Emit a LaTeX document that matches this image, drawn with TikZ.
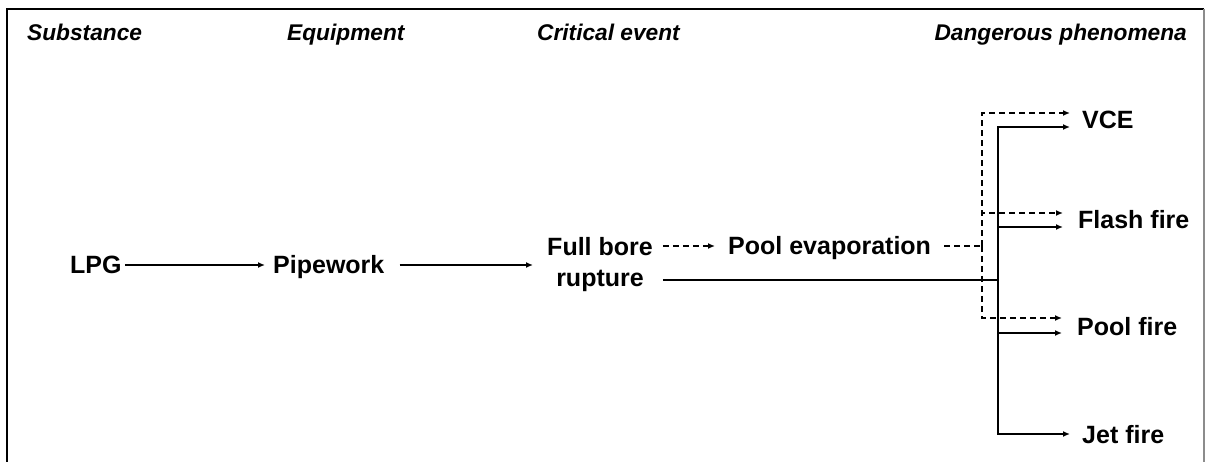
\documentclass[tikz,border=0pt]{standalone}
\usepackage{fontspec}
\setmainfont{Liberation Sans}
\usetikzlibrary{arrows.meta}

\begin{document}
\begin{tikzpicture}[x=1pt, y=-1pt,
    head/.style={font=\fontsize{22.7}{27}\selectfont\bfseries\itshape, inner sep=0pt, text height=16pt, text depth=0pt, anchor=west},
    item/.style={font=\fontsize{25}{31}\selectfont\bfseries, inner sep=0pt, text height=18pt, text depth=0pt, anchor=west},
    link/.style={line width=2pt},
    flow/.style={link, -{Latex[length=7pt,width=6pt]}},
    maybe/.style={dash pattern=on 6pt off 4pt}]

    % Common settings
    \def\dashX{982}
    \def\solidX{998}

    \useasboundingbox (0,0) rectangle (1207,462);

    % Frame (open at the bottom)
    \draw[line width=2.5pt] (7,462) -- (7,9) -- (1204,9);
    \draw[line width=1.5pt, black!45] (1204,9) -- (1204,462);

    % Column headings
    \node[head] (substance) at (27,33) {Substance};
    \node[head] (equipment) at (287,33) {Equipment};
    \node[head] (critical) at (537,33) {Critical event};
    \node[head, anchor=east] (phenomena) at (1187,33) {Dangerous phenomena};

    %%%% Event chain
    \node[item] (lpg) at (70,265) {LPG};
    \node[item] (pipework) at (273,265) {Pipework};
    \node[font=\fontsize{25}{31}\selectfont\bfseries, align=center, inner sep=0pt] (rupture) at (600,265) {Full bore\\rupture};
    \node[item] (evap) at (728,246) {Pool evaporation};

    \draw[flow, shorten <=3pt, shorten >=8pt] (lpg.east) -- (pipework.west);
    \draw[flow, shorten <=15pt, shorten >=14pt] (pipework.east) -- (rupture.west);
    \draw[flow, maybe, shorten <=10pt, shorten >=13pt] (rupture.east |- evap.west) -- (evap.west);

    %%%% Dangerous phenomena
    \node[item] (vce) at (1082,120) {VCE};
    \node[item] (flash) at (1078,220) {Flash fire};
    \node[item] (pool) at (1077,326) {Pool fire};
    \node[item] (jet) at (1082,434) {Jet fire};

    % Split points
    \coordinate (dsplit) at (\dashX,246);
    \coordinate (ssplit) at (\solidX,280);

    % Via pool evaporation (dashed)
    \draw[link, maybe, shorten <=13pt] (evap.east) -- (dsplit);
    \draw[flow, maybe] (dsplit) |- ([xshift=-12pt, yshift=7pt]vce.west);
    \draw[flow, maybe] (dsplit) |- ([xshift=-15pt, yshift=7pt]flash.west);
    \draw[flow, maybe] (dsplit) |- ([xshift=-15pt, yshift=8pt]pool.west);

    % Direct from rupture (solid)
    \draw[link, shorten <=10pt] (rupture.east |- ssplit) -- (ssplit);
    \draw[flow] (ssplit) |- ([xshift=-12pt, yshift=-7pt]vce.west);
    \draw[flow] (ssplit) |- ([xshift=-15pt, yshift=-7pt]flash.west);
    \draw[flow] (ssplit) |- ([xshift=-15pt, yshift=-7pt]pool.west);
    \draw[flow] (ssplit) |- ([xshift=-12pt]jet.west);

\end{tikzpicture}
\end{document}
